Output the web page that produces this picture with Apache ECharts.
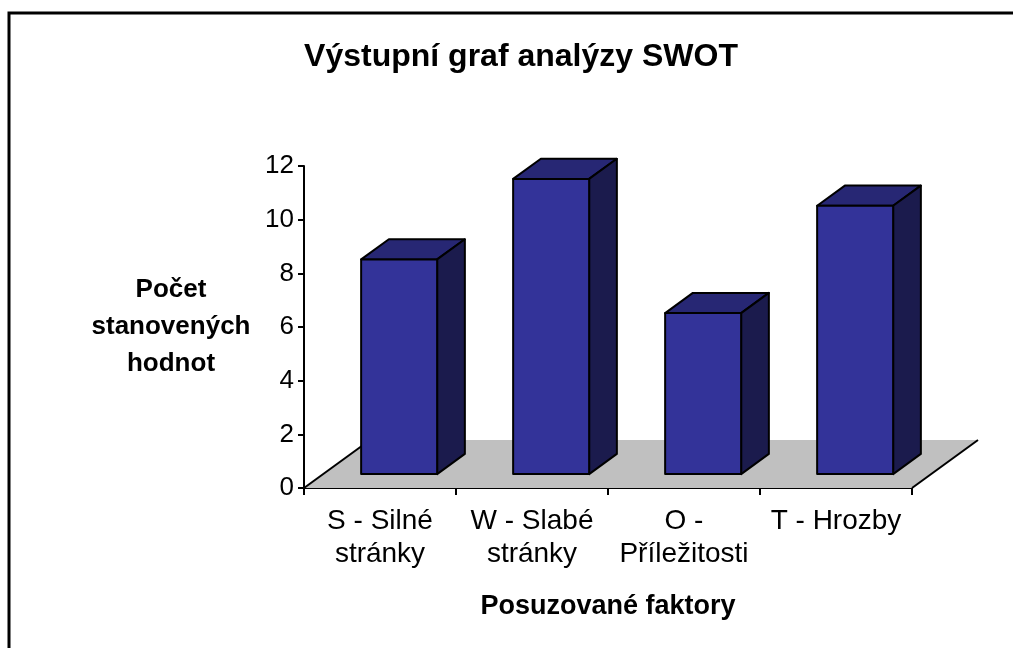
<!DOCTYPE html>
<html>
<head>
<meta charset="utf-8">
<script src="https://cdn.jsdelivr.net/npm/echarts@6/dist/echarts.min.js"></script>
<style>
html,body{margin:0;padding:0;background:#fff;}
#chart{width:1013px;height:648px;}
</style>
</head>
<body>
<div id="chart"></div>
<script>
// ---- data ----
const titleText = 'Výstupní graf analýzy SWOT';
const categories = ['S - Silné\nstránky', 'W - Slabé\nstránky', 'O -\nPříležitosti', 'T - Hrozby'];
const values = [8, 11, 6, 10];
const yAxisName = 'Počet\nstanovených\nhodnot';
const xAxisName = 'Posuzované faktory';
const yMin = 0, yMax = 12, yStep = 2;

// ---- styling / 3D geometry ----
const FONT = "'Liberation Sans', Arial, sans-serif";
const FLOOR_DX = 66, FLOOR_DY = -48;
const FRONT_F = 0.29, BACK_F = 0.71;
const BAR_W = 0.5;

const chart = echarts.init(document.getElementById('chart'));

function renderFloor(params, api) {
  const band = api.size([1, 0])[0];
  const a = api.coord([0, 0]);
  const b = api.coord([categories.length - 1, 0]);
  const x0 = a[0] - band / 2, x1 = b[0] + band / 2, y = a[1];
  const pts = [[x0, y], [x1, y], [x1 + FLOOR_DX, y + FLOOR_DY], [x0 + FLOOR_DX, y + FLOOR_DY]];
  return {
    type: 'group',
    children: [
      { type: 'polygon', shape: { points: pts }, style: { fill: '#c0c0c0', stroke: null } },
      { type: 'line', shape: { x1: pts[0][0], y1: pts[0][1], x2: pts[3][0], y2: pts[3][1] }, style: { stroke: '#000', lineWidth: 2 } },
      { type: 'line', shape: { x1: pts[1][0], y1: pts[1][1], x2: pts[2][0], y2: pts[2][1] }, style: { stroke: '#000', lineWidth: 2 } }
    ]
  };
}

function renderBar(params, api) {
  const cat = api.value(0), val = api.value(1);
  const band = api.size([1, 0])[0];
  const base = api.coord([cat, 0]);
  const top = api.coord([cat, val]);
  const w = band * BAR_W;
  const fdx = FLOOR_DX * FRONT_F, fdy = FLOOR_DY * FRONT_F;
  const bdx = FLOOR_DX * BACK_F, bdy = FLOOR_DY * BACK_F;
  const xl = base[0] - w / 2 + fdx, xr = base[0] + w / 2 + fdx;
  const yb = base[1] + fdy, yt = top[1] + fdy;
  const ddx = bdx - fdx, ddy = bdy - fdy;
  const st = { stroke: '#000', lineWidth: 2, lineJoin: 'round' };
  return {
    type: 'group',
    children: [
      { type: 'polygon', shape: { points: [[xl, yt], [xr, yt], [xr + ddx, yt + ddy], [xl + ddx, yt + ddy]] },
        style: Object.assign({ fill: '#272774' }, st) },
      { type: 'polygon', shape: { points: [[xr, yt], [xr + ddx, yt + ddy], [xr + ddx, yb + ddy], [xr, yb]] },
        style: Object.assign({ fill: '#1b1b4d' }, st) },
      { type: 'rect', shape: { x: xl, y: yt, width: xr - xl, height: yb - yt },
        style: Object.assign({ fill: '#333399' }, st) }
    ]
  };
}

chart.setOption({
  backgroundColor: '#fff',
  animation: false,
  title: {
    text: titleText,
    left: 516, top: 36, textAlign: 'center',
    textStyle: { fontFamily: FONT, fontSize: 32, fontWeight: 'bold', color: '#000' }
  },
  graphic: [
    { type: 'rect', shape: { x: 9, y: 13, width: 1020, height: 650 },
      style: { fill: null, stroke: '#000', lineWidth: 3 }, z: 100 }
  ],
  grid: { left: 304, right: 101, top: 166, bottom: 160, containLabel: false },
  xAxis: {
    type: 'category',
    data: categories,
    boundaryGap: true,
    name: xAxisName,
    nameLocation: 'middle',
    nameGap: 119,
    nameTextStyle: { fontFamily: FONT, fontSize: 27, fontWeight: 'bold', color: '#000', verticalAlign: 'middle' },
    axisLine: { lineStyle: { color: '#000', width: 2 } },
    axisTick: { show: true, length: 7, lineStyle: { color: '#000', width: 2 } },
    axisLabel: { fontFamily: FONT, fontSize: 28, color: '#000', lineHeight: 33, margin: 17, interval: 0 },
    splitLine: { show: false }
  },
  yAxis: {
    type: 'value',
    min: yMin, max: yMax, interval: yStep,
    name: yAxisName,
    nameLocation: 'middle',
    nameRotate: 0,
    nameGap: 133,
    nameTextStyle: { fontFamily: FONT, fontSize: 26, fontWeight: 'bold', color: '#000', lineHeight: 37, align: 'center', verticalAlign: 'middle', padding: [6, 0, 0, 0] },
    axisLine: { show: true, lineStyle: { color: '#000', width: 2 } },
    axisTick: { show: true, length: 6, lineStyle: { color: '#000', width: 2 } },
    axisLabel: { fontFamily: FONT, fontSize: 26, color: '#000', margin: 10, padding: [9, 0, 0, 0] },
    splitLine: { show: false }
  },
  series: [
    { type: 'custom', name: 'floor', renderItem: renderFloor, data: [[0, 0]], clip: false, z: 1, silent: true },
    { type: 'custom', name: 'Počet', renderItem: renderBar, data: values.map((v, i) => [i, v]), clip: false, z: 2,
      encode: { x: 0, y: 1 } }
  ]
});
</script>
</body>
</html>
